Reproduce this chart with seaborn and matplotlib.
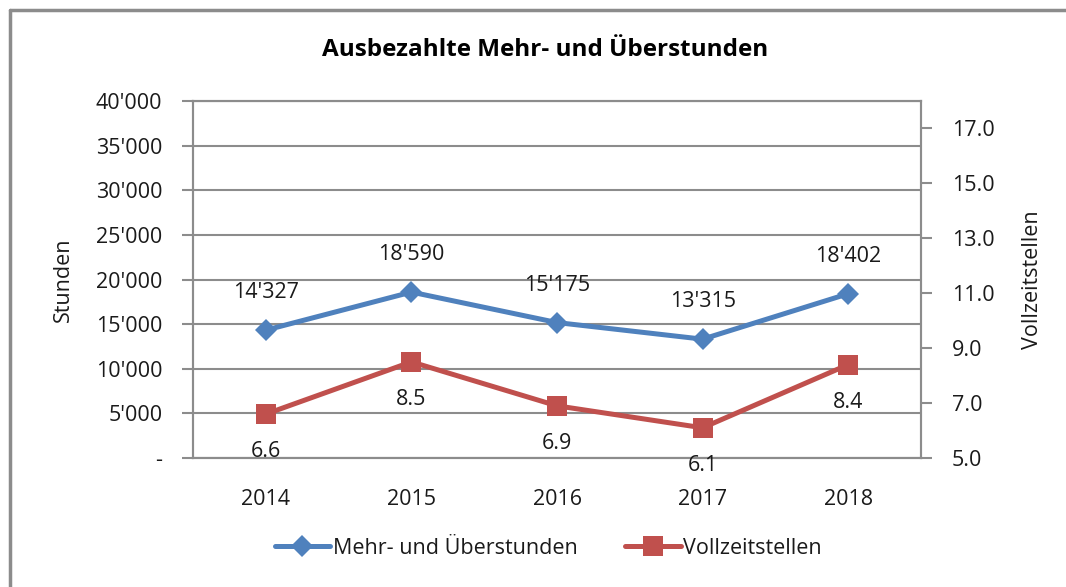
import matplotlib
matplotlib.use('Agg')
import matplotlib.pyplot as plt
import matplotlib.ticker as mticker
from matplotlib.lines import Line2D
import seaborn as sns
import pandas as pd
import numpy as np

years = ['2014', '2015', '2016', '2017', '2018']
stunden = [14327, 18590, 15175, 13315, 18402]
stellen = [6.6, 8.5, 6.9, 6.1, 8.4]
stunden_labels = ["14'327", "18'590", "15'175", "13'315", "18'402"]
stellen_labels = ['6.6', '8.5', '6.9', '6.1', '8.4']

blue = '#4F81BD'
red = '#C0504D'
grid_col = '#8C8C8C'
txt_col = '#1A1A1A'
fs = 15.5

sns.set_style('white')
plt.rcParams['font.family'] = ['Open Sans', 'DejaVu Sans']

df = pd.DataFrame({'pos': np.arange(len(years)), 'stunden': stunden, 'stellen': stellen})

fig = plt.figure(figsize=(10.66, 5.87), dpi=100)
ax = fig.add_axes([193 / 1066, 1 - 458 / 587, (921 - 193) / 1066, (458 - 101) / 587])
ax2 = ax.twinx()

sns.lineplot(data=df, x='pos', y='stunden', ax=ax, color=blue, linewidth=3.6,
             marker='D', markersize=11, markeredgewidth=0, label='Mehr- und Überstunden',
             legend=False)
sns.lineplot(data=df, x='pos', y='stellen', ax=ax2, color=red, linewidth=3.6,
             marker='s', markersize=14, markeredgewidth=0, label='Vollzeitstellen',
             legend=False)

# left axis
ax.set_ylim(0, 40000)
ax.set_yticks(np.arange(0, 40001, 5000))
ax.yaxis.set_major_formatter(mticker.FuncFormatter(
    lambda v, p: '-' if v == 0 else f"{int(v):,}".replace(',', "'")))
ax.set_xlim(-0.5, len(years) - 0.5)
ax.set_xticks(np.arange(len(years)))
ax.set_xticklabels(years)
ax.set_xticks(np.arange(-0.5, len(years)), minor=True)
ax.tick_params(axis='x', which='major', length=0, labelsize=fs, pad=22, colors=txt_col)
ax.tick_params(axis='x', which='minor', length=7, width=1.5, color=grid_col, direction='out')
ax.tick_params(axis='y', length=8, width=1.5, color=grid_col, direction='out', labelsize=fs,
               labelcolor=txt_col, pad=14)
ax.grid(axis='y', color=grid_col, linewidth=1.5)
ax.set_axisbelow(True)
for s in ax.spines.values():
    s.set_color(grid_col)
    s.set_linewidth(1.5)
ax.set_xlabel('')
ax.set_ylabel('Stunden', fontsize=fs, labelpad=16, color=txt_col)

# right axis
ax2.set_ylim(5, 18)
ax2.set_yticks(np.arange(5, 17.1, 2))
ax2.yaxis.set_major_formatter(mticker.FormatStrFormatter('%.1f'))
ax2.tick_params(axis='y', length=8, width=1.5, color=grid_col, direction='out', labelsize=fs,
                labelcolor=txt_col, pad=14)
for s in ax2.spines.values():
    s.set_color(grid_col)
    s.set_linewidth(1.5)
ax2.set_ylabel('Vollzeitstellen', fontsize=fs, labelpad=20, color=txt_col)
ax2.set_xlabel('')

# data labels
for i in range(len(years)):
    ax.annotate(stunden_labels[i], (i, stunden[i]), xytext=(0, 27), textcoords='offset points',
                ha='center', va='center', fontsize=fs, color=txt_col)
    ax2.annotate(stellen_labels[i], (i, stellen[i]), xytext=(0, -27), textcoords='offset points',
                 ha='center', va='center', fontsize=fs, color=txt_col)

fig.text(545 / 1066, 1 - 50 / 587, 'Ausbezahlte Mehr- und Überstunden', ha='center', va='center',
         fontsize=17.5, fontweight='bold', color='#000000')

h1, l1 = ax.get_legend_handles_labels()
h2, l2 = ax2.get_legend_handles_labels()
fig.legend(h1 + h2, l1 + l2, loc='center', bbox_to_anchor=(548 / 1066, 1 - 548 / 587), ncol=2,
           frameon=False, fontsize=fs, handlelength=2.6, columnspacing=2.2, handletextpad=0.1,
           labelcolor=txt_col)

# outer chart frame (left and top edges visible)
fig.add_artist(Line2D([10 / 1066, 10 / 1066], [0, 1 - 10 / 587], transform=fig.transFigure,
                      color=grid_col, linewidth=2.5))
fig.add_artist(Line2D([10 / 1066, 1], [1 - 10 / 587, 1 - 10 / 587], transform=fig.transFigure,
                      color=grid_col, linewidth=2.5))

fig.savefig('out.png', dpi=100)
